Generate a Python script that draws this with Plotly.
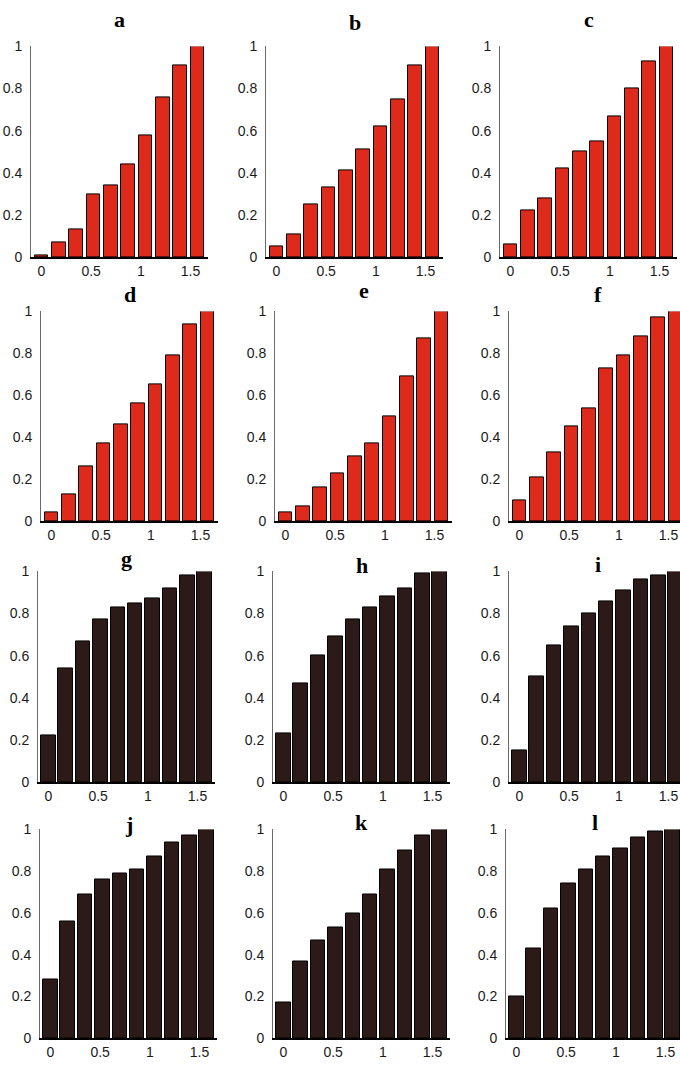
import numpy as np
import plotly.graph_objects as go

# Angles (degrees) of the ten bars, plotted in radians on the x axis
angles_deg = [0, 10, 20, 30, 40, 50, 60, 70, 80, 90]

# Normalised values for each panel
vals_a = [0.01, 0.07, 0.13, 0.30, 0.34, 0.44, 0.58, 0.76, 0.91, 1.00]
vals_b = [0.05, 0.11, 0.25, 0.33, 0.41, 0.51, 0.62, 0.75, 0.91, 1.00]
vals_c = [0.06, 0.22, 0.28, 0.42, 0.50, 0.55, 0.67, 0.80, 0.93, 1.00]
vals_d = [0.04, 0.13, 0.26, 0.37, 0.46, 0.56, 0.65, 0.79, 0.94, 1.00]
vals_e = [0.04, 0.07, 0.16, 0.23, 0.31, 0.37, 0.50, 0.69, 0.87, 1.00]
vals_f = [0.10, 0.21, 0.33, 0.45, 0.54, 0.73, 0.79, 0.88, 0.97, 1.00]
vals_g = [0.22, 0.54, 0.67, 0.77, 0.83, 0.85, 0.87, 0.92, 0.98, 1.00]
vals_h = [0.23, 0.47, 0.60, 0.69, 0.77, 0.83, 0.88, 0.92, 0.99, 1.00]
vals_i = [0.15, 0.50, 0.65, 0.74, 0.80, 0.86, 0.91, 0.96, 0.98, 1.00]
vals_j = [0.28, 0.56, 0.69, 0.76, 0.79, 0.81, 0.87, 0.94, 0.97, 1.00]
vals_k = [0.17, 0.37, 0.47, 0.53, 0.60, 0.69, 0.81, 0.90, 0.97, 1.00]
vals_l = [0.20, 0.43, 0.62, 0.74, 0.81, 0.87, 0.91, 0.96, 0.99, 1.00]

panel_labels = ["a", "b", "c", "d", "e", "f", "g", "h", "i", "j", "k", "l"]
panel_values = [vals_a, vals_b, vals_c, vals_d, vals_e, vals_f,
                vals_g, vals_h, vals_i, vals_j, vals_k, vals_l]

x_tickvals = [0, 0.5, 1, 1.5]
x_ticktext = ["0", "0.5", "1", "1.5"]
y_tickvals = [0, 0.2, 0.4, 0.6, 0.8, 1]
y_ticktext = ["0", "0.2", "0.4", "0.6", "0.8", "1"]

W, H = 680, 1067
RED = "#dd2a1b"
DARK = "#2c1a18"

# Pixel layout of each panel: (left, top, bottom, title baseline)
panel_px = [
    (31, 39, 253, 23), (266, 39, 253, 26), (500, 39, 253, 23),
    (41, 308, 521, 302), (275, 308, 521, 298), (509, 308, 521, 302),
    (38, 572, 786, 570), (273, 572, 786, 577), (509, 572, 786, 576),
    (40, 834, 1046, 840), (273, 834, 1046, 838), (506, 834, 1046, 838),
]
PANEL_W = 177
spacing = np.pi / 18
x_lo = -0.6 * spacing
x_hi = np.pi / 2 + 0.6 * spacing

x = np.deg2rad(angles_deg)

fig = go.Figure()
layout = dict(
    width=W, height=H,
    margin=dict(l=0, r=0, t=0, b=0),
    paper_bgcolor="white", plot_bgcolor="white",
    showlegend=False,
    bargap=0,
)
annotations = []
tick_font = dict(family="Liberation Sans", size=14, color="#1a1a1a")

for idx, (lab, vals) in enumerate(zip(panel_labels, panel_values)):
    left, top, bottom, base = panel_px[idx]
    right = left + PANEL_W
    hi = x_hi
    if right > W:
        # panel runs past the right page edge: keep the same scale, clip the range
        hi = x_lo + (W - left) / PANEL_W * (x_hi - x_lo)
        right = W
    n = "" if idx == 0 else str(idx + 1)
    dark = idx >= 6
    fig.add_trace(go.Bar(
        x=x, y=vals,
        width=(0.84 if dark else 0.78) * spacing,
        marker=dict(color=DARK if dark else RED,
                    line=dict(color="#000000", width=1)),
        xaxis="x" + n, yaxis="y" + n,
        hoverinfo="skip",
    ))
    layout["xaxis" + n] = dict(
        domain=[left / W, right / W],
        range=[x_lo, hi],
        anchor="y" + n,
        tickvals=x_tickvals, ticktext=x_ticktext,
        ticks="", showgrid=False, zeroline=False,
        showline=True, linecolor="#000000", linewidth=1.5,
        tickfont=tick_font,
        ticklabelstandoff=0,
    )
    layout["yaxis" + n] = dict(
        domain=[1 - bottom / H, 1 - top / H],
        range=[0, 1],
        anchor="x" + n,
        tickvals=y_tickvals, ticktext=y_ticktext,
        ticks="", showgrid=False, zeroline=False,
        showline=True, linecolor="#6a6a6a", linewidth=1,
        tickfont=tick_font,
        ticklabelstandoff=5,
    )
    annotations.append(dict(
        text="<b>%s</b>" % lab,
        xref="paper", yref="paper",
        x=(left + PANEL_W / 2) / W, y=1 - (base - 11) / H,
        xanchor="center", yanchor="middle",
        showarrow=False,
        font=dict(family="Liberation Serif", size=22, color="#000000"),
    ))

layout["annotations"] = annotations
fig.update_layout(**layout)
fig.write_html("out.html")
